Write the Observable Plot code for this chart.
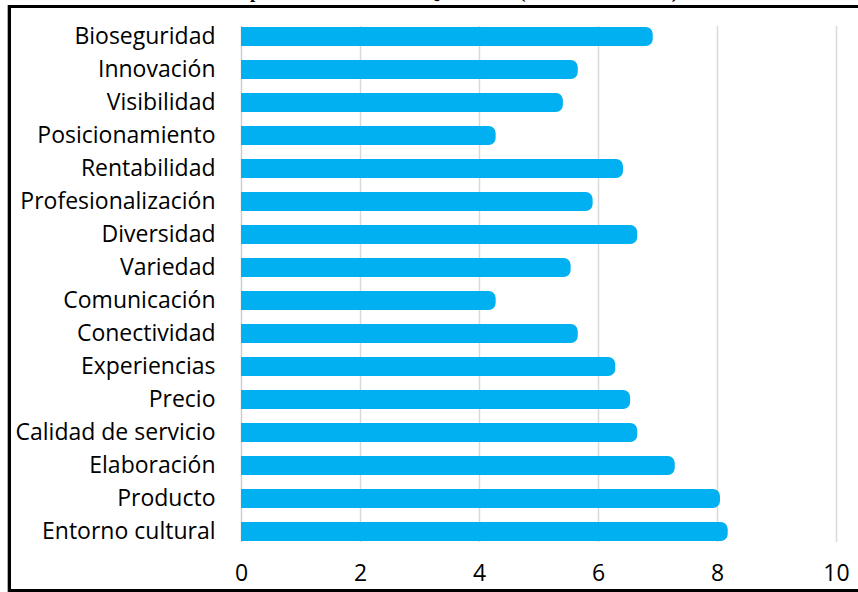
<!DOCTYPE html>
<html>
<head>
<meta charset="utf-8">
<script src="https://cdn.jsdelivr.net/npm/d3@7"></script>
<script src="https://cdn.jsdelivr.net/npm/@observablehq/plot@0.6"></script>
<style>
  html, body { margin: 0; padding: 0; background: #fff; }
  #wrap { position: relative; width: 858px; height: 592px; overflow: hidden; }
  #title {
    position: absolute; left: 205px; top: -18px; white-space: nowrap;
    font: bold 19px/19px "Liberation Serif", "Times New Roman", serif; color: #000;
  }
  #frame {
    position: absolute; left: 8px; top: 5px; width: 860px; height: 581px;
    border-top: 3px solid #000; border-left: 3px solid #000; border-bottom: 3px solid #000;
    box-shadow: -1px 0 0 #b0b0b0;
  }
  #chart { position: absolute; left: 0; top: 0; }
</style>
</head>
<body>
<div id="wrap">
  <div id="title">Percepción de atributos en Quito 2021 (calificación media)</div>
  <div id="frame"></div>
  <div id="chart"></div>
</div>
<script>
// Attributes, top to bottom, with their mean scores
const attributes = [
  "Bioseguridad", "Innovación", "Visibilidad", "Posicionamiento", "Rentabilidad",
  "Profesionalización", "Diversidad", "Variedad", "Comunicación", "Conectividad",
  "Experiencias", "Precio", "Calidad de servicio", "Elaboración", "Producto", "Entorno cultural"
];
const scores = [
  6.92, 5.66, 5.41, 4.28, 6.42,
  5.91, 6.66, 5.54, 4.28, 5.66,
  6.29, 6.54, 6.66, 7.29, 8.05, 8.18
];
const xTicks = [0, 2, 4, 6, 8, 10];

const data = attributes.map((name, i) => ({name, score: scores[i]}));

const chart = Plot.plot({
  width: 858,
  height: 592,
  marginLeft: 241,
  marginRight: 22,
  marginTop: 26,
  marginBottom: 50,
  style: {fontFamily: "'Open Sans', sans-serif", fontSize: "23px", color: "#000", background: "transparent"},
  x: {domain: [0, 10], ticks: xTicks, tickSize: 0, tickPadding: 22, label: null},
  y: {domain: attributes, padding: 0.42, paddingOuter: 0, tickSize: 0, tickPadding: 26, label: null},
  marks: [
    Plot.ruleX(xTicks.filter(d => d > 0), {stroke: "#d9d9d9", strokeWidth: 1.5, strokeOpacity: 1}),
    Plot.ruleX([0], {stroke: "#d0d0d0", strokeWidth: 1.5}),
    Plot.barX(data, {x: "score", y: "name", fill: "#00b0f0", rx2: 7})
  ]
});
document.getElementById("chart").appendChild(chart);
</script>
</body>
</html>
